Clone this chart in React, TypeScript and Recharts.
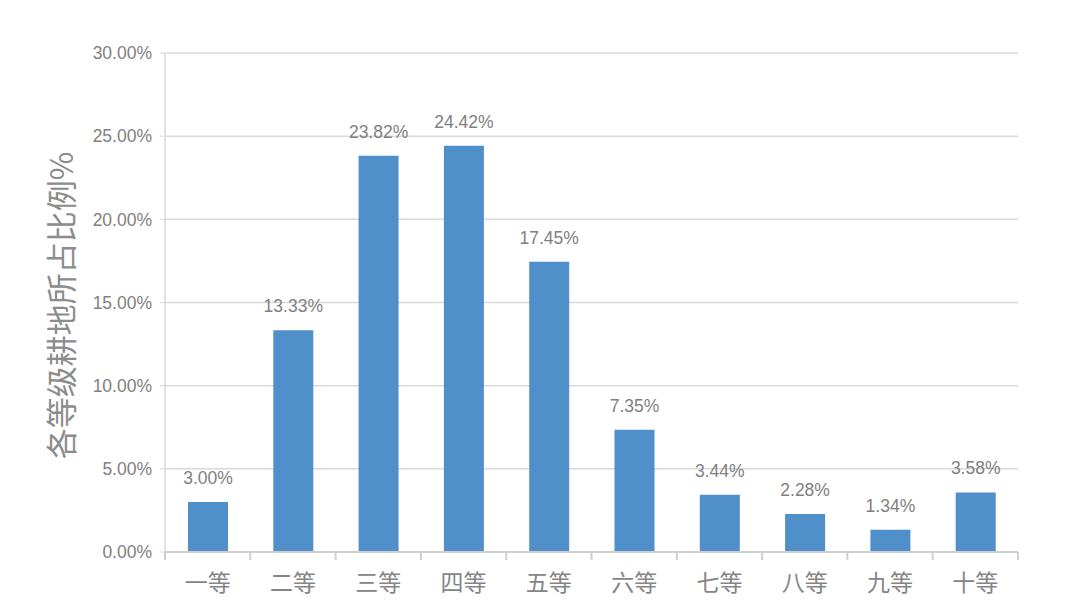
import React from "react";
import { BarChart, Bar, XAxis, YAxis, CartesianGrid, LabelList } from "recharts";

const categories = ["一等", "二等", "三等", "四等", "五等", "六等", "七等", "八等", "九等", "十等"];
const values = [3.0, 13.33, 23.82, 24.42, 17.45, 7.35, 3.44, 2.28, 1.34, 3.58];
const yTicks = [0, 5, 10, 15, 20, 25, 30];
const yTitle = "各等级耕地所占比例%";

const data = categories.map((c, i) => ({ name: c, value: values[i] }));

const XTick = (props: any) => {
  const { x, y, payload, index } = props;
  const off = payload.offset || 0;
  return (
    <g>
      <line x1={x - off} y1={y - 8} x2={x - off} y2={y} stroke="#cfcfcf" strokeWidth={2} />
      {index === categories.length - 1 && (
        <line x1={x + off} y1={y - 8} x2={x + off} y2={y} stroke="#cfcfcf" strokeWidth={2} />
      )}
      <text x={x} y={y + 31} textAnchor="middle" fill="#858585" fontSize={23} fontFamily="'Noto Sans CJK SC', sans-serif">
        {payload.value}
      </text>
    </g>
  );
};

const YTitle = (props: any) => {
  const vb = props.viewBox || {};
  const cy = vb.y + vb.height / 2 + 3;
  return (
    <text x={59} y={cy} transform={`rotate(-90, 59, ${cy})`} textAnchor="middle" fill="#8c8c8c" fontSize={31} fontFamily="'Noto Sans CJK SC', sans-serif" dominantBaseline="central">
      {yTitle}
    </text>
  );
};

export default function App() {
  return (
    <div style={{ position: "absolute", left: 0, top: 0, width: 1080, height: 614, background: "#fff" }}>
      <BarChart width={1080} height={614} data={data} margin={{ top: 53, right: 62, bottom: 17, left: 80 }}>
        <CartesianGrid vertical={false} stroke="#d9d9d9" strokeWidth={1.5} />
        <XAxis
          dataKey="name"
          height={45}
          tickLine={false}
          axisLine={{ stroke: "#cfcfcf", strokeWidth: 2 }}
          tick={<XTick />}
          interval={0}
        />
        <YAxis
          width={85}
          domain={[0, 30]}
          ticks={yTicks}
          tickFormatter={(v: number) => `${v.toFixed(2)}%`}
          axisLine={{ stroke: "#d9d9d9", strokeWidth: 1.5 }}
          tickLine={{ stroke: "#d9d9d9" }}
          tickSize={5}
          tickMargin={8}
          tick={{ fill: "#808080", fontSize: 17.5, fontFamily: "'Liberation Sans', sans-serif" }}
          label={<YTitle />}
        />
        <Bar dataKey="value" fill="#4f8fca" barSize={40} isAnimationActive={false}>
          <LabelList
            dataKey="value"
            position="top"
            offset={18}
            formatter={(v: number) => `${v.toFixed(2)}%`}
            style={{ fill: "#808080", fontSize: 17.5, fontFamily: "'Liberation Sans', sans-serif" }}
          />
        </Bar>
      </BarChart>
    </div>
  );
}
